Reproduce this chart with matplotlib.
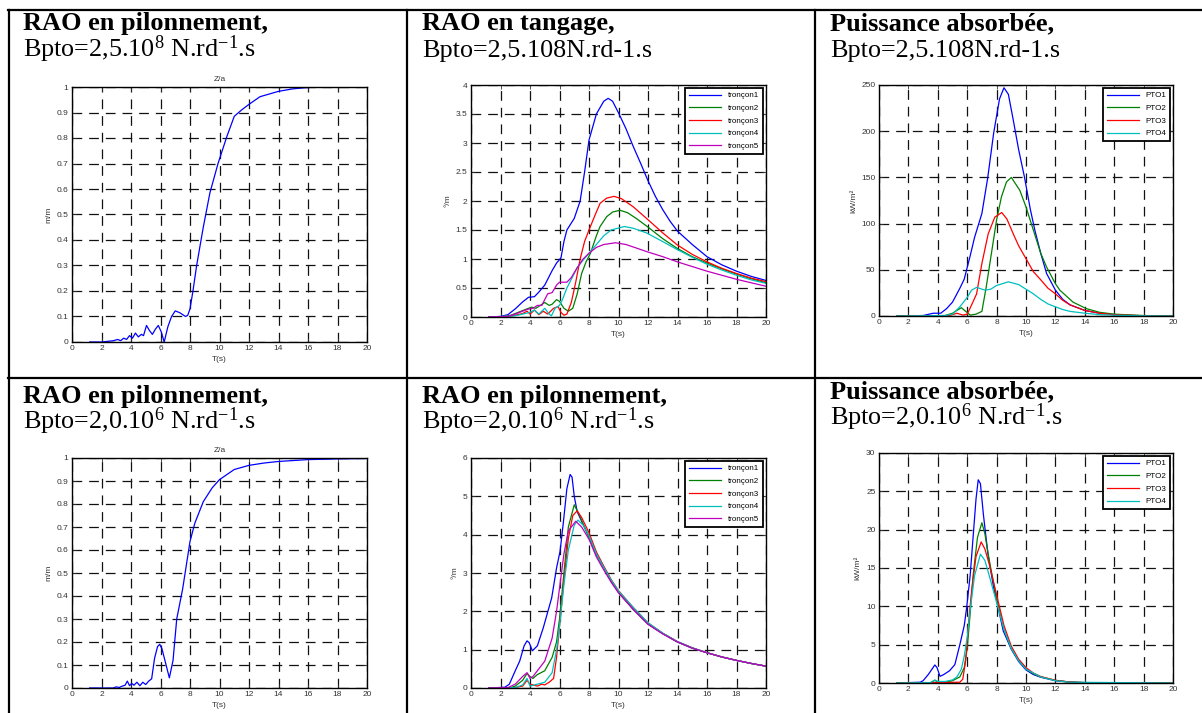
import matplotlib.pyplot as plt
from matplotlib.lines import Line2D

plt.rcParams['font.family'] = 'Liberation Sans'
plt.rcParams['mathtext.fontset'] = 'custom'
plt.rcParams['mathtext.rm'] = 'Liberation Serif'
plt.rcParams['mathtext.it'] = 'Liberation Serif:italic'
plt.rcParams['mathtext.bf'] = 'Liberation Serif:bold'
plt.rcParams['lines.scale_dashes'] = False

W, H = 1202, 713

# ---- heave RAO, Bpto = 2,5.10^8 ----
heave_a_t = [1.2, 2.0, 2.8, 3.1, 3.3, 3.5, 3.7, 3.9, 4.1, 4.3, 4.5, 4.7, 4.85, 5.05,
             5.25, 5.45, 5.65, 5.85, 6.05, 6.25, 6.5, 6.75, 7.0, 7.3, 7.7, 7.85, 8.0,
             8.2, 8.45, 8.9, 9.35, 9.9, 10.5, 11.0, 11.5, 12.0, 12.75, 14.0, 15.0,
             16.0, 17.0, 20.0]
heave_a_z = [0, 0, 0.005, 0.01, 0.005, 0.015, 0.01, 0.025, 0.015, 0.035, 0.02, 0.03,
             0.025, 0.065, 0.045, 0.03, 0.05, 0.065, 0.04, 0.0, 0.06, 0.1, 0.122,
             0.115, 0.1, 0.105, 0.13, 0.2, 0.3, 0.45, 0.585, 0.70, 0.806, 0.885, 0.91,
             0.932, 0.962, 0.983, 0.993, 0.998, 1.0, 1.0]

# ---- heave RAO, Bpto = 2,0.10^6 ----
heave_b_t = [1.2, 2.8, 3.0, 3.2, 3.4, 3.6, 3.75, 3.9, 4.05, 4.2, 4.4, 4.6, 4.8, 5.0,
             5.2, 5.4, 5.6, 5.8, 5.95, 6.1, 6.3, 6.6, 6.85, 7.1, 7.5, 8.0, 8.33, 8.9,
             9.5, 10.0, 11.0, 12.0, 13.0, 14.0, 16.0, 18.0, 20.0]
heave_b_z = [0, 0, 0.005, 0.002, 0.008, 0.012, 0.03, 0.01, 0.02, 0.012, 0.025, 0.01,
             0.025, 0.015, 0.03, 0.04, 0.13, 0.18, 0.19, 0.17, 0.12, 0.044, 0.12,
             0.30, 0.43, 0.637, 0.717, 0.81, 0.87, 0.906, 0.95, 0.968, 0.978, 0.985,
             0.993, 0.996, 0.998]

# ---- pitch RAO, Bpto = 2,5.10^8 (troncons 1..5) ----
pitch_a_t1 = [1.2, 2.0, 2.5, 3.0, 3.5, 3.9, 4.3, 4.6, 5.0, 5.5, 5.8, 6.1, 6.3, 6.5, 7.0,
              7.4, 7.7, 8.0, 8.5, 9.0, 9.3, 9.6, 10.0, 10.5, 11.0, 11.5, 12.0, 12.5,
              13.0, 13.5, 14.0, 15.0, 16.0, 17.0, 18.0, 19.0, 20.0]
pitch_a_v1 = [0, 0.01, 0.04, 0.14, 0.26, 0.34, 0.35, 0.43, 0.55, 0.8, 0.93, 1.02, 1.3,
              1.5, 1.7, 2.0, 2.5, 3.05, 3.5, 3.72, 3.77, 3.72, 3.52, 3.25, 2.94, 2.65,
              2.35, 2.08, 1.85, 1.65, 1.48, 1.25, 1.04, 0.9, 0.79, 0.7, 0.63]
pitch_a_t2 = [1.2, 2.0, 2.7, 3.2, 3.7, 4.1, 4.4, 4.7, 5.0, 5.3, 5.5, 5.8, 6.0, 6.3, 6.6,
              6.9, 7.2, 7.5, 7.8, 8.1, 8.5, 8.75, 9.2, 9.6, 10.1, 10.6, 11.2, 12.0,
              13.0, 14.0, 15.0, 16.0, 17.0, 18.0, 19.0, 20.0]
pitch_a_v2 = [0, 0, 0.03, 0.08, 0.13, 0.17, 0.15, 0.2, 0.25, 0.2, 0.22, 0.3, 0.27, 0.15,
              0.1, 0.15, 0.4, 0.75, 0.95, 1.1, 1.4, 1.56, 1.73, 1.81, 1.84, 1.8, 1.7,
              1.55, 1.35, 1.18, 1.04, 0.93, 0.83, 0.74, 0.66, 0.59]
pitch_a_t3 = [1.2, 2.5, 3.0, 3.5, 3.8, 4.0, 4.3, 4.6, 4.9, 5.2, 5.6, 5.9, 6.1, 6.3, 6.5,
              6.8, 7.1, 7.4, 7.7, 8.0, 8.4, 8.75, 9.2, 9.7, 10.2, 11.0, 11.9, 13.0,
              14.0, 15.0, 16.0, 17.0, 18.0, 19.0, 20.0]
pitch_a_v3 = [0, 0.01, 0.03, 0.06, 0.1, 0.05, 0.12, 0.04, 0.1, 0.05, 0.15, 0.18, 0.08,
              0.03, 0.05, 0.25, 0.6, 1.0, 1.3, 1.5, 1.75, 1.96, 2.05, 2.08, 2.04, 1.9,
              1.7, 1.45, 1.24, 1.08, 0.95, 0.84, 0.75, 0.67, 0.61]
pitch_a_t4 = [1.2, 3.0, 3.5, 4.0, 4.3, 4.6, 5.0, 5.3, 5.45, 5.7, 6.0, 6.2, 6.5, 6.8, 7.2,
              7.6, 8.0, 8.5, 9.0, 9.5, 10.4, 11.0, 11.9, 13.0, 14.0, 15.0, 16.0, 17.0,
              18.0, 19.0, 20.0]
pitch_a_v4 = [0, 0.02, 0.05, 0.08, 0.12, 0.05, 0.15, 0.05, 0.02, 0.15, 0.2, 0.3, 0.5,
              0.65, 0.85, 0.98, 1.1, 1.25, 1.4, 1.5, 1.56, 1.53, 1.45, 1.3, 1.16, 1.03,
              0.91, 0.81, 0.72, 0.64, 0.58]
pitch_a_t5 = [1.2, 2.5, 3.0, 3.5, 3.8, 4.2, 4.5, 4.8, 5.0, 5.2, 5.5, 5.8, 6.0, 6.5, 6.8,
              7.2, 7.6, 8.0, 8.5, 9.0, 9.8, 10.5, 11.2, 12.0, 13.0, 14.0, 15.0, 16.0,
              17.0, 18.0, 19.0, 20.0]
pitch_a_v5 = [0, 0.01, 0.05, 0.1, 0.13, 0.15, 0.2, 0.2, 0.3, 0.4, 0.42, 0.55, 0.6, 0.6,
              0.68, 0.85, 1.0, 1.1, 1.2, 1.25, 1.28, 1.25, 1.19, 1.12, 1.04, 0.95, 0.87,
              0.79, 0.72, 0.65, 0.59, 0.53]

# ---- pitch-labelled RAO, Bpto = 2,0.10^6 (troncons 1..5) ----
pitch_b_t1 = [1.2, 2.3, 2.6, 3.0, 3.3, 3.6, 3.8, 3.95, 4.16, 4.5, 4.9, 5.47, 5.8, 6.04,
              6.27, 6.5, 6.72, 6.85, 7.0, 7.2, 7.5, 8.0, 8.5, 9.0, 9.5, 10.0, 11.0,
              12.0, 13.0, 14.0, 15.0, 16.0, 17.0, 18.0, 19.0, 20.0]
pitch_b_v1 = [0, 0.02, 0.1, 0.45, 0.7, 1.1, 1.23, 1.18, 0.97, 1.1, 1.57, 2.35, 3.13,
              3.57, 4.35, 5.2, 5.57, 5.5, 5.0, 4.6, 4.35, 3.95, 3.5, 3.15, 2.8, 2.5,
              2.05, 1.67, 1.42, 1.2, 1.04, 0.92, 0.81, 0.72, 0.64, 0.57]
pitch_b_t2 = [1.2, 2.7, 3.0, 3.5, 3.8, 4.0, 4.2, 4.5, 5.0, 5.5, 5.8, 6.0, 6.3, 6.6, 7.0,
              7.3, 8.0, 8.5, 9.0, 9.5, 10.0, 11.0, 12.0, 13.0, 14.0, 15.0, 16.0,
              17.0, 18.0, 19.0, 20.0]
pitch_b_v2 = [0, 0.01, 0.05, 0.2, 0.38, 0.3, 0.25, 0.35, 0.45, 0.8, 1.2, 1.8, 3.0, 4.2,
              4.78, 4.55, 3.92, 3.48, 3.14, 2.8, 2.5, 2.06, 1.67, 1.42, 1.2, 1.04,
              0.92, 0.81, 0.72, 0.64, 0.57]
pitch_b_t3 = [1.2, 3.0, 3.5, 3.8, 4.0, 4.5, 4.8, 5.0, 5.3, 5.6, 5.8, 6.0, 6.3, 6.6, 6.9,
              7.2, 7.5, 8.0, 8.5, 9.0, 9.5, 10.0, 11.0, 12.0, 13.0, 14.0, 15.0, 16.0,
              17.0, 18.0, 19.0, 20.0]
pitch_b_v3 = [0, 0.01, 0.05, 0.2, 0.1, 0.05, 0.1, 0.08, 0.15, 0.25, 0.8, 1.6, 2.8, 3.9,
              4.5, 4.62, 4.45, 4.05, 3.55, 3.18, 2.83, 2.54, 2.1, 1.7, 1.43, 1.21,
              1.05, 0.92, 0.81, 0.72, 0.64, 0.57]
pitch_b_t4 = [1.2, 3.0, 3.5, 3.8, 4.0, 4.5, 5.0, 5.5, 5.8, 6.0, 6.3, 6.6, 7.0, 7.25, 7.6,
              8.0, 8.5, 9.0, 9.5, 10.0, 11.0, 12.0, 13.0, 14.0, 15.0, 16.0, 17.0,
              18.0, 19.0, 20.0]
pitch_b_v4 = [0, 0.01, 0.08, 0.25, 0.05, 0.1, 0.15, 0.4, 1.0, 1.6, 2.7, 3.6, 4.25, 4.38,
              4.25, 3.97, 3.5, 3.15, 2.82, 2.53, 2.1, 1.7, 1.43, 1.21, 1.05, 0.92,
              0.81, 0.72, 0.64, 0.57]
pitch_b_t5 = [1.2, 2.5, 3.0, 3.5, 3.8, 4.0, 4.2, 4.5, 5.0, 5.5, 5.8, 6.0, 6.3, 6.6, 7.1,
              7.5, 8.0, 8.5, 9.0, 9.5, 10.0, 11.0, 12.0, 13.0, 14.0, 15.0, 16.0, 17.0,
              18.0, 19.0, 20.0]
pitch_b_v5 = [0, 0.01, 0.1, 0.3, 0.4, 0.25, 0.3, 0.45, 0.7, 1.3, 2.0, 2.6, 3.5, 4.1,
              4.35, 4.2, 3.88, 3.42, 3.08, 2.76, 2.48, 2.05, 1.66, 1.41, 1.2, 1.04,
              0.92, 0.81, 0.72, 0.64, 0.57]

# ---- absorbed power, Bpto = 2,5.10^8 (PTO 1..4) ----
power_a_t1 = [1.2, 3.0, 3.7, 4.2, 4.6, 5.0, 5.5, 5.8, 6.2, 6.5, 7.0, 7.4, 7.8, 8.2, 8.5,
              8.8, 9.1, 9.5, 9.9, 10.3, 10.6, 11.0, 11.4, 12.0, 12.5, 13.0, 14.0, 15.0,
              16.0, 17.0, 18.0, 20.0]
power_a_p1 = [0, 0.5, 3, 3, 8, 15, 30, 40, 65, 85, 111, 150, 198, 235, 247, 240, 215,
              180, 150, 115, 93, 68, 46, 28, 18, 12, 6, 3, 1.5, 0.6, 0.3, 0]
power_a_t2 = [1.2, 4.5, 5.0, 5.3, 5.6, 5.9, 6.2, 6.6, 7.0, 7.3, 7.65, 8.0, 8.33, 8.67, 9.0,
              9.58, 10.0, 10.5, 11.0, 11.4, 12.0, 12.3, 13.2, 14.1, 15.0, 16.0, 18.0,
              20.0]
power_a_p2 = [0, 0.5, 3, 6, 9, 5, 1, 2, 5, 32, 68, 104, 129, 145, 150, 136, 118, 93, 68,
              53, 35, 28, 15, 8, 4, 2, 0.5, 0]
power_a_t3 = [1.2, 4.8, 5.3, 5.7, 6.0, 6.3, 6.64, 7.0, 7.43, 7.88, 8.35, 8.7, 9.13, 9.5,
              10.0, 10.5, 10.9, 11.5, 12.0, 12.5, 13.0, 14.0, 15.0, 16.0, 18.0, 20.0]
power_a_p3 = [0, 0.5, 3, 1, 2, 12, 24, 57, 89, 107, 112, 105, 89, 76, 62, 48, 41, 30,
              24, 17, 12, 6, 3, 1.3, 0.3, 0]
power_a_t4 = [1.2, 4.5, 5.0, 5.5, 6.0, 6.3, 6.64, 7.2, 7.6, 8.0, 8.8, 9.5, 10.0, 10.5,
              11.0, 11.5, 12.0, 12.5, 13.0, 14.0, 15.0, 16.0, 18.0, 20.0]
power_a_p4 = [0, 0.5, 2, 10, 20, 28, 31, 28, 29, 33, 37, 34, 29, 24, 18, 13, 10, 7, 5,
              3, 1.5, 0.8, 0.2, 0]

# ---- absorbed power, Bpto = 2,0.10^6 (PTO 1..4) ----
power_b_t1 = [1.2, 2.8, 3.0, 3.35, 3.8, 3.95, 4.15, 4.4, 4.8, 5.16, 5.5, 5.8, 5.96, 6.2,
              6.4, 6.6, 6.75, 6.9, 7.1, 7.4, 7.8, 8.0, 8.45, 9.0, 9.5, 10.0, 10.5, 11.0,
              12.0, 13.0, 14.0, 20.0]
power_b_p1 = [0, 0.1, 0.3, 1.1, 2.35, 2.0, 0.87, 1.1, 1.6, 2.4, 5.0, 7.5, 9.8, 14, 19,
              24, 26.5, 26, 22, 17, 12.4, 10.8, 6.8, 4.4, 2.8, 1.7, 1.1, 0.75, 0.3,
              0.12, 0.05, 0]
power_b_t2 = [1.2, 3.5, 3.8, 4.0, 4.5, 5.0, 5.5, 5.8, 6.0, 6.2, 6.4, 6.7, 7.0, 7.2, 7.5,
              8.0, 8.5, 9.0, 9.5, 10.0, 10.5, 11.0, 12.0, 13.0, 14.0, 20.0]
power_b_p2 = [0, 0.05, 0.35, 0.1, 0.1, 0.3, 0.8, 2.0, 4.5, 9, 14, 19, 20.9, 19.5, 16,
              11, 7, 4.5, 3.0, 1.9, 1.2, 0.8, 0.35, 0.12, 0.05, 0]
power_b_t3 = [1.2, 5.5, 5.7, 5.9, 6.1, 6.3, 6.6, 6.95, 7.2, 7.5, 8.0, 8.5, 9.0, 9.5, 10.0,
              10.5, 11.0, 12.0, 13.0, 14.0, 20.0]
power_b_p3 = [0, 0.1, 0.5, 3, 8, 12, 16.5, 18.4, 17.5, 15.5, 11.5, 7.5, 4.8, 3.1, 2.0,
              1.3, 0.85, 0.35, 0.12, 0.05, 0]
power_b_t4 = [1.2, 3.5, 3.8, 4.0, 4.5, 5.0, 5.3, 5.6, 5.8, 6.0, 6.2, 6.5, 6.9, 7.2, 7.5,
              8.0, 8.5, 9.0, 9.5, 10.0, 11.0, 12.0, 13.0, 20.0]
power_b_p4 = [0, 0.05, 0.4, 0.2, 0.2, 0.4, 0.8, 1.8, 3.5, 6, 9.5, 14, 16.8, 16, 14,
              10.5, 7, 4.5, 2.9, 1.8, 0.8, 0.3, 0.1, 0]

troncon_labels = ['tronçon1', 'tronçon2', 'tronçon3', 'tronçon4', 'tronçon5']
pto_labels = ['PTO1', 'PTO2', 'PTO3', 'PTO4']
colors = ['#0000ff', '#008000', '#ff0000', '#00bfbf', '#bf00bf']


def px_rect(x0, y0, x1, y1):
    return [x0 / W, 1 - y1 / H, (x1 - x0) / W, (y1 - y0) / H]


def draw_panel(fig, rect, curves, ylim, yticks, ylabel, title=None, labels=None,
               yfmt=None):
    ax = fig.add_axes(px_rect(*rect))
    for i, (t, v) in enumerate(curves):
        ax.plot(t, v, color=colors[i], lw=0.9,
                label=labels[i] if labels else None)
    ax.set_xlim(0, 20)
    ax.set_ylim(*ylim)
    ax.set_xticks(range(0, 21, 2))
    ax.set_yticks(yticks)
    if yfmt:
        ax.set_yticklabels([yfmt(v) for v in yticks])
    ax.grid(True, color='#111111', lw=0.9, linestyle=(0, (7, 5)))
    ax.tick_params(direction='in', length=3, width=0.6, labelsize=6, pad=2.5,
                   top=True, right=True, colors='#333333')
    for s in ax.spines.values():
        s.set_linewidth(1.0)
    ax.set_xlabel('T(s)', fontsize=6, labelpad=2.5, color='#333333')
    ax.set_ylabel(ylabel, fontsize=6, labelpad=3, color='#333333')
    if title:
        ax.set_title(title, fontsize=6, pad=4, color='#333333')
    if labels:
        leg = ax.legend(loc='upper right', fontsize=5.8, fancybox=False,
                        edgecolor='k', framealpha=1, borderaxespad=0.35,
                        handlelength=4.0, labelspacing=0.62, borderpad=0.5,
                        handletextpad=0.8)
        leg.get_frame().set_linewidth(1.3)
    return ax


fig = plt.figure(figsize=(W / 100, H / 100), dpi=100)

# table lines
def hline(y, x0, x1):
    fig.add_artist(Line2D([x0 / W, x1 / W], [1 - y / H, 1 - y / H], color='k', lw=1.6))


def vline(x, y0, y1):
    fig.add_artist(Line2D([x / W, x / W], [1 - y0 / H, 1 - y1 / H], color='k', lw=1.6))


hline(10, 8, W)
hline(378, 8, W)
vline(8.5, 10, H)
vline(406.5, 10, H)
vline(815, 10, H)

# cell headers
headers = [
    (23, 30, 57, 'RAO en pilonnement,', r'Bpto=2,5.10$^{8}$ N.rd$^{-1}$.s'),
    (422, 30, 57, 'RAO en tangage,', 'Bpto=2,5.108N.rd-1.s'),
    (830, 30, 57, 'Puissance absorbée,', 'Bpto=2,5.108N.rd-1.s'),
    (23, 403, 429, 'RAO en pilonnement,', r'Bpto=2,0.10$^{6}$ N.rd$^{-1}$.s'),
    (422, 403, 429, 'RAO en pilonnement,', r'Bpto=2,0.10$^{6}$ N.rd$^{-1}$.s'),
    (830, 398, 425, 'Puissance absorbée,', r'Bpto=2,0.10$^{6}$ N.rd$^{-1}$.s'),
]
for x, y1, y2, bold, sub in headers:
    fig.text(x / W, 1 - y1 / H, bold, family='Liberation Serif', weight='bold',
             fontsize=19, va='baseline')
    fig.text(x / W, 1 - y2 / H, sub, family='Liberation Serif', fontsize=18.8,
             va='baseline')

pct = lambda v: ('%g' % v)

draw_panel(fig, (72, 87, 367, 342), [(heave_a_t, heave_a_z)], (0, 1),
           [i / 10 for i in range(11)], 'm/m', title='Z/a', yfmt=pct)
draw_panel(fig, (471, 85, 766, 317),
           [(pitch_a_t1, pitch_a_v1), (pitch_a_t2, pitch_a_v2), (pitch_a_t3, pitch_a_v3),
            (pitch_a_t4, pitch_a_v4), (pitch_a_t5, pitch_a_v5)],
           (0, 4), [0, 0.5, 1, 1.5, 2, 2.5, 3, 3.5, 4], '°/m', labels=troncon_labels,
           yfmt=pct)
draw_panel(fig, (879, 85, 1173, 316),
           [(power_a_t1, power_a_p1), (power_a_t2, power_a_p2), (power_a_t3, power_a_p3),
            (power_a_t4, power_a_p4)],
           (0, 250), [0, 50, 100, 150, 200, 250], 'kW/m²', labels=pto_labels)
draw_panel(fig, (72, 458, 367, 688), [(heave_b_t, heave_b_z)], (0, 1),
           [i / 10 for i in range(11)], 'm/m', title='Z/a', yfmt=pct)
draw_panel(fig, (471, 458, 766, 688),
           [(pitch_b_t1, pitch_b_v1), (pitch_b_t2, pitch_b_v2), (pitch_b_t3, pitch_b_v3),
            (pitch_b_t4, pitch_b_v4), (pitch_b_t5, pitch_b_v5)],
           (0, 6), [0, 1, 2, 3, 4, 5, 6], '°/m', labels=troncon_labels)
draw_panel(fig, (879, 453, 1173, 683),
           [(power_b_t1, power_b_p1), (power_b_t2, power_b_p2), (power_b_t3, power_b_p3),
            (power_b_t4, power_b_p4)],
           (0, 30), [0, 5, 10, 15, 20, 25, 30], 'kW/m²', labels=pto_labels)

fig.savefig('out.png', dpi=100)
